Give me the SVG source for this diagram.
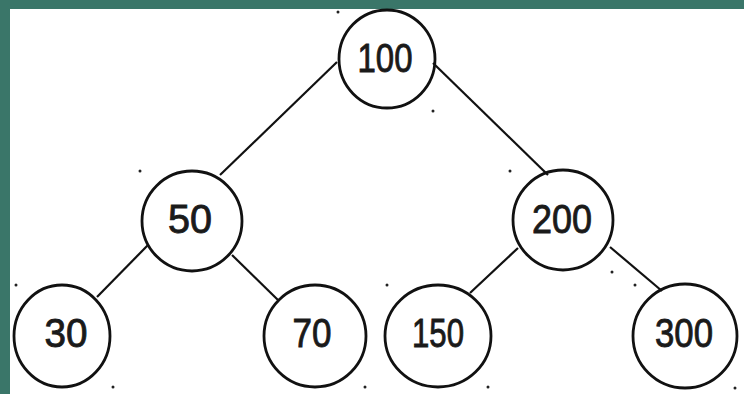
<svg xmlns="http://www.w3.org/2000/svg" width="744" height="394" viewBox="0 0 744 394">
  <style>
    .node ellipse { fill: none; stroke: #111; stroke-width: 2.8; }
    .node text { font-family: "Liberation Sans", Arial, sans-serif; font-size: 41px; fill: #1a1a1a; stroke: #1a1a1a; stroke-width: 0.9; text-anchor: middle; }
    .edges line { stroke: #111; stroke-width: 2.2; }
    .speck { fill: #222; }
  </style>
  <!-- page background and teal frame -->
  <rect x="0" y="0" width="744" height="394" fill="#ffffff"/>
  <rect x="0" y="0" width="744" height="9" fill="#3a7669"/>
  <rect x="0" y="0" width="10" height="394" fill="#3a7669"/>

  <g class="edges">
    <line x1="337" y1="62" x2="220" y2="175"/>
    <line x1="433" y1="63" x2="548" y2="175"/>
    <line x1="148" y1="245" x2="97" y2="297"/>
    <line x1="232" y1="255" x2="278" y2="300"/>
    <line x1="518" y1="248" x2="470" y2="293"/>
    <line x1="610" y1="247" x2="662" y2="291"/>
  </g>

  <g id="n100" class="node">
    <ellipse cx="387" cy="59" rx="48" ry="49"/>
    <text x="385" y="72" textLength="55" lengthAdjust="spacingAndGlyphs">100</text>
  </g>
  <g id="n50" class="node">
    <ellipse cx="192" cy="221" rx="50" ry="50"/>
    <text x="190" y="233" textLength="44" lengthAdjust="spacingAndGlyphs">50</text>
  </g>
  <g id="n200" class="node">
    <ellipse cx="563" cy="220" rx="50" ry="50"/>
    <text x="562" y="233" textLength="60" lengthAdjust="spacingAndGlyphs">200</text>
  </g>
  <g id="n30" class="node">
    <ellipse cx="62" cy="336" rx="48" ry="51"/>
    <text x="66" y="347" textLength="43" lengthAdjust="spacingAndGlyphs">30</text>
  </g>
  <g id="n70" class="node">
    <ellipse cx="315" cy="336" rx="51" ry="51"/>
    <text x="312" y="347" textLength="39" lengthAdjust="spacingAndGlyphs">70</text>
  </g>
  <g id="n150" class="node">
    <ellipse cx="438" cy="336" rx="53" ry="51"/>
    <text x="438" y="347" textLength="52" lengthAdjust="spacingAndGlyphs">150</text>
  </g>
  <g id="n300" class="node">
    <ellipse cx="685" cy="336" rx="52" ry="52"/>
    <text x="684" y="347" textLength="58" lengthAdjust="spacingAndGlyphs">300</text>
  </g>

  <!-- stray corner dots -->
  <g class="speck">
    <circle cx="16" cy="285" r="1.5"/>
    <circle cx="113" cy="387" r="1.5"/>
    <circle cx="365" cy="387" r="1.5"/>
    <circle cx="387" cy="285" r="1.5"/>
    <circle cx="488" cy="387" r="1.5"/>
    <circle cx="612" cy="272" r="1.5"/>
    <circle cx="635" cy="285" r="1.5"/>
    <circle cx="735" cy="388" r="1.5"/>
    <circle cx="433" cy="111" r="1.5"/>
    <circle cx="140" cy="171" r="1.5"/>
    <circle cx="510" cy="171" r="1.5"/>
    <circle cx="338" cy="12" r="1.5"/>
  </g>
</svg>
